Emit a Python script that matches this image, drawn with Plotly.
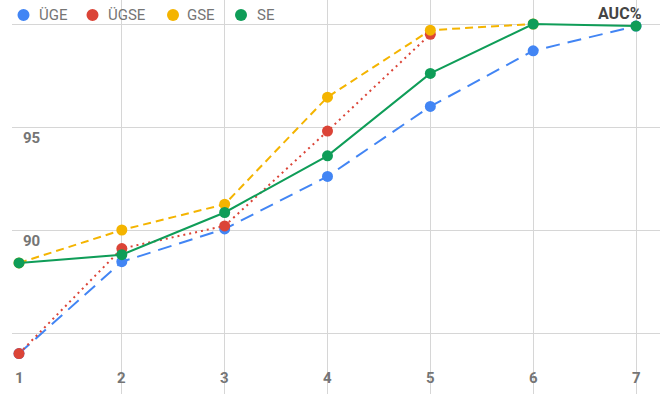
import plotly.graph_objects as go

x_vals = [1, 2, 3, 4, 5, 6, 7]
uge = [84.0, 88.46, 90.05, 92.6, 96.0, 98.7, 99.9]
ugse = [84.0, 89.1, 90.2, 94.8, 99.5]
gse = [88.4, 90.0, 91.25, 96.45, 99.7, 100.0]
se = [88.4, 88.8, 90.85, 93.6, 97.6, 100.0, 99.9]

names = ["ÜGE", "ÜGSE", "GSE", "SE"]
series = [uge, ugse, gse, se]
colors = ["#4285F4", "#DB4437", "#F4B400", "#0F9D58"]
dashes = ["14px,8px", "2px,4px", "8px,5px", "solid"]

y_ticks = [85, 90, 95, 100]
y_labels = ["", "90", "95", ""]
x_labels = ["1", "2", "3", "4", "5", "6", "7"]

W, H = 660, 394
ML = 12
PW = W - ML

fig = go.Figure()
for n, s, c, d in zip(names, series, colors, dashes):
    fig.add_trace(go.Scatter(
        x=x_vals[:len(s)], y=s, name=n, mode="lines+markers",
        line=dict(color=c, width=2, dash=d),
        marker=dict(color=c, size=11),
        showlegend=False,
    ))

# legend drawn as dots + text
dot_x = [23.5, 92.5, 173, 241]
txt_x = [37.5, 107, 186.5, 256]
shapes = []
annotations = []
for n, c, dx, tx in zip(names, colors, dot_x, txt_x):
    shapes.append(dict(
        type="circle", xref="paper", yref="paper",
        xsizemode="pixel", ysizemode="pixel",
        xanchor=0, yanchor=1,
        x0=dx - ML - 6, x1=dx - ML + 6, y0=-15 - 6, y1=-15 + 6,
        fillcolor=c, line=dict(width=0),
    ))
    annotations.append(dict(
        text=n, xref="paper", yref="paper",
        x=(tx - ML) / PW, y=1 - 15 / H, xanchor="left", yanchor="middle",
        showarrow=False, borderpad=0,
        font=dict(family="Roboto", size=15, color="#757575"),
    ))

# x tick labels (inside, near the bottom)
for xv, lab in zip(x_vals, x_labels):
    annotations.append(dict(
        text="<b>" + lab + "</b>", xref="x", yref="paper",
        x=xv, y=1 - 378 / H, xanchor="center", yanchor="middle",
        showarrow=False, borderpad=0,
        font=dict(family="Roboto", size=15, color="#757575"),
    ))

annotations.append(dict(
    text="<b>AUC%</b>", xref="paper", yref="paper",
    x=(643 - ML) / PW, y=1 - 13 / H, xanchor="right", yanchor="middle",
    showarrow=False, borderpad=0,
    font=dict(family="Roboto", size=16, color="#444444"),
))

fig.update_layout(
    width=W, height=H,
    margin=dict(l=ML, r=0, t=0, b=0),
    paper_bgcolor="white", plot_bgcolor="white",
    shapes=shapes, annotations=annotations,
    showlegend=False,
    xaxis=dict(
        range=[1 - 7 / 102.83, 7 + 24 / 102.83],
        tickvals=x_vals,
        showticklabels=False,
        showgrid=True, gridcolor="#d6d6d6", gridwidth=1,
        zeroline=False, showline=False, ticks="",
    ),
    yaxis=dict(
        range=[85 - 61 / 20.6, 100 + 24 / 20.6],
        tickvals=y_ticks, ticktext=y_labels,
        showgrid=True, gridcolor="#d6d6d6", gridwidth=1,
        zeroline=False, showline=False,
        ticks="", ticklabelposition="inside bottom",
        ticklabelstandoff=8,
        tickfont=dict(family="Roboto", size=15, color="#757575", weight="bold"),
    ),
)

fig.write_html("out.html", config={"displayModeBar": False},
               post_script="document.body.style.margin='0';")
